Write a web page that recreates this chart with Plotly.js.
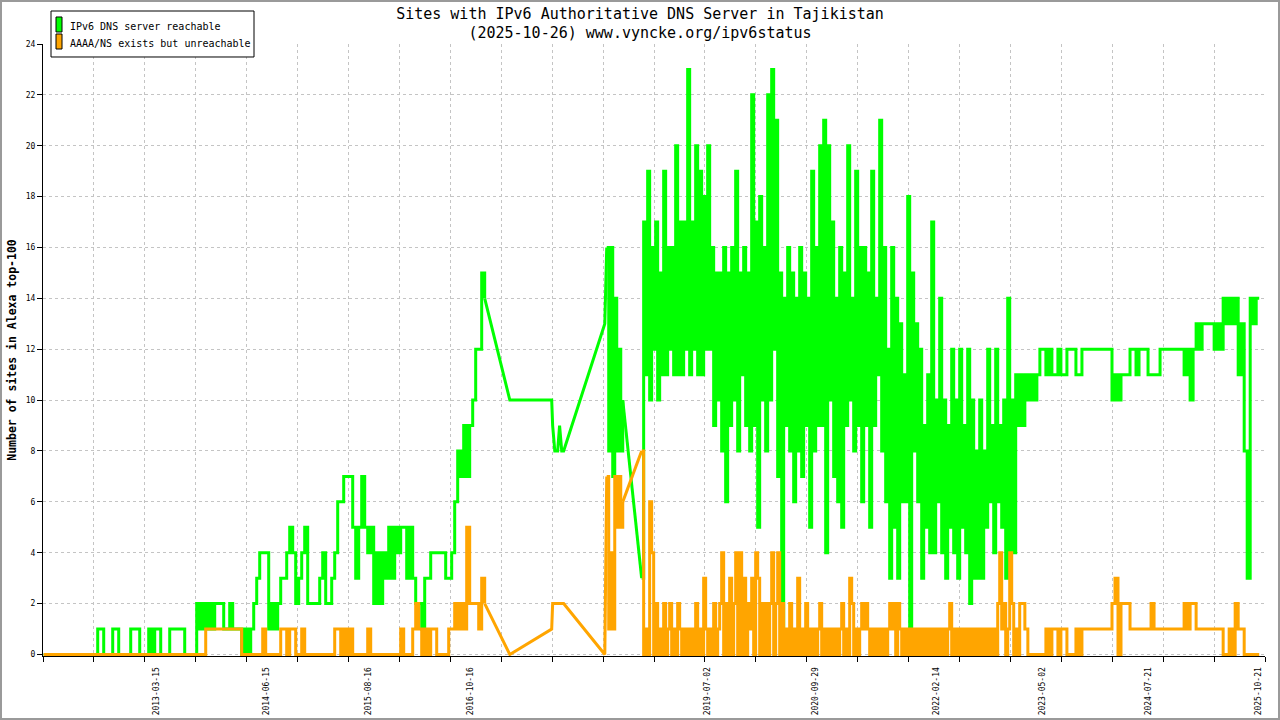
<!DOCTYPE html>
<html>
<head>
<meta charset="utf-8">
<script src="https://cdn.plot.ly/plotly-3.0.1.min.js"></script>
<style>
html,body{margin:0;padding:0;background:#fff;}
#chart{width:1280px;height:720px;}
</style>
</head>
<body>
<div id="chart"></div>
<script>
// ---------------- DATA ----------------
const seriesNames = ['IPv6 DNS server reachable', 'AAAA/NS exists but unreachable'];

// Period 1: regular samples from 2011-11-29 to 2016-12-15
const earlyStart = '2011-11-29', earlyEnd = '2016-12-15';
const earlyReachable = [
 0,0,0,0,0,0,0,0,0,0,
 0,0,0,0,0,0,0,0,1,1,
 0,0,0,1,1,0,0,0,0,1,
 1,1,0,0,0,1,0,1,1,0,
 0,0,1,1,1,1,1,0,0,0,
 0,2,1,2,1,2,1,2,2,2,
 1,1,2,1,1,1,0,1,0,1,
 2,3,4,4,4,1,2,1,2,3,
 3,4,5,4,2,3,4,5,2,2,
 2,2,3,4,2,2,3,4,6,6,
 7,7,7,5,3,5,7,5,4,5,
 2,4,2,4,3,5,3,5,4,5,
 5,3,5,3,2,2,1,3,3,4,
 4,4,4,4,3,3,4,6,8,7,
 9,7,9,10,12,12,15,14
];
const earlyUnreachable = [
 0,0,0,0,0,0,0,0,0,0,
 0,0,0,0,0,0,0,0,0,0,
 0,0,0,0,0,0,0,0,0,0,
 0,0,0,0,0,0,0,0,0,0,
 0,0,0,0,0,0,0,0,0,0,
 0,0,0,0,1,1,1,1,1,1,
 1,1,1,1,1,1,0,0,0,0,
 0,0,0,1,0,0,0,0,0,1,
 1,0,1,1,0,0,1,0,0,0,
 0,0,0,0,0,0,0,1,1,0,
 1,0,1,0,0,0,0,0,1,0,
 0,0,0,0,0,0,0,0,0,1,
 0,0,0,1,2,1,0,1,0,1,
 1,0,0,0,0,1,1,2,1,2,
 1,5,2,2,2,1,3,2
];

// Period 2: sparse measurements (2017 - early 2018)
const gapDates = ['2017-03-30','2017-09-21','2017-09-25','2017-10-04','2017-10-16','2017-10-24','2017-11-02','2017-11-10','2018-05-01'];
const gapReachable   = [10,10,9,8,8,9,8,8,13];
const gapUnreachable = [0,1,2,2,2,2,2,2,0];

// Period 3: short burst 2018-05-09 .. 2018-07-15
const burstStart = '2018-05-09', burstEnd = '2018-07-15';
const burstReachable   = [16,8,16,7,14,8,12,8,10];
const burstUnreachable = [7,1,4,1,7,5,7,5,6];

// Period 4: regular samples 2018-10-02 .. 2023-01-29
const denseStart = '2018-10-02', denseEnd = '2023-01-29';
const denseReachable = [
 3,17,11,19,10,16,12,17,10,15,
 11,19,11,16,12,16,11,20,11,17,
 11,17,12,23,11,17,12,20,11,19,
 11,18,12,20,12,16,9,15,10,15,
 8,16,6,15,9,16,10,19,8,15,
 11,16,9,15,8,22,9,17,5,18,
 10,16,8,22,10,23,12,21,7,15,
 0,14,9,16,8,15,6,14,8,16,
 7,15,9,14,5,19,8,16,9,20,
 9,21,4,20,10,17,7,14,6,16,
 5,15,9,20,10,14,8,19,9,16,
 6,16,9,15,5,19,9,14,11,21,
 8,16,6,12,3,16,5,14,3,13,
 6,11,6,18,0,15,8,13,6,12,
 3,9,5,11,4,17,4,10,6,14,
 4,10,3,9,5,12,4,10,3,12,
 5,9,4,12,2,10,3,8,3,10,
 3,8,5,12,6,9,4,12,6,9,
 5,10,3,14,4,10,4,11,9,11
];
const denseUnreachable = [
 8,0,1,0,6,4,0,2,0,1,
 0,2,0,1,2,0,1,0,2,1,
 0,1,0,1,0,1,0,2,0,1,
 0,3,1,0,1,0,2,0,1,2,
 4,0,2,0,3,0,2,4,0,4,
 0,3,0,2,1,3,0,4,3,0,
 2,0,2,0,2,4,0,2,4,0,
 2,0,1,0,2,0,1,0,3,0,
 1,0,2,0,1,0,1,0,1,2,
 0,1,0,1,0,1,0,1,0,1,
 2,0,1,0,3,2,0,1,0,1,
 2,1,2,1,0,1,0,1,0,1,
 0,1,0,1,2,1,2,0,2,1,
 0,1,0,1,0,1,0,1,0,1,
 0,1,0,1,0,1,0,1,0,1,
 0,1,0,1,2,0,1,0,1,0,
 1,0,1,0,1,0,1,0,1,0,
 1,0,1,0,1,0,1,0,2,4,
 1,2,0,1,4,2,0,1,0,2
];

// Period 5: regular samples 2023-02-07 .. 2025-10-26
const lateStart = '2023-02-07', lateEnd = '2025-10-26';
const lateReachable = [
 9,11,10,11,10,11,12,12,11,12,
 11,11,12,11,11,12,12,12,11,11,
 12,12,12,12,12,12,12,12,12,12,
 10,11,10,11,11,11,12,12,11,12,
 12,12,11,11,11,11,12,12,12,12,
 12,12,12,12,11,12,10,12,13,12,
 13,13,13,13,12,13,12,14,13,14,
 13,14,11,13,8,3,14,13,14,14
];
const lateUnreachable = [
 2,1,0,0,0,0,0,0,1,0,
 1,1,0,1,1,0,0,0,1,0,
 1,1,1,1,1,1,1,1,1,1,
 2,3,0,2,2,2,1,1,1,1,
 1,1,1,2,1,1,1,1,1,1,
 1,1,1,1,2,1,2,2,1,1,
 1,1,1,1,1,1,1,0,0,1,
 0,2,1,1,0,0,0,0,0,0
];

// Axis tick labels
const xTickLabels = ['2013-03-15','2014-06-15','2015-08-16','2016-10-16','2019-07-02','2020-09-29','2022-02-14','2023-05-02','2024-07-21','2025-10-21'];
const yTickStep = 2;
const axisStart = '2011-11-26';
const gridDays = 212.8;   // spacing of the dotted vertical grid
const gridCount = 24;

// ---------------- BUILD ----------------
function evenDates(start, end, n) {
  const a = Date.parse(start + 'T00:00:00Z'), b = Date.parse(end + 'T00:00:00Z');
  const out = [];
  for (let i = 0; i < n; i++) {
    out.push(new Date(a + (b - a) * i / (n - 1)).toISOString().slice(0, 19).replace('T', ' '));
  }
  return out;
}
const last = a => a[a.length - 1];

const earlyDates = evenDates(earlyStart, earlyEnd, earlyReachable.length);
const burstDates = evenDates(burstStart, burstEnd, burstReachable.length);
const denseDates = evenDates(denseStart, denseEnd, denseReachable.length);
const lateDates  = evenDates(lateStart, lateEnd, lateReachable.length);

const green = '#00ff00', orange = '#ffa500';
const mono = 'DejaVu Sans Mono';

function seriesTraces(name, color, early, gap, burst, dense, late) {
  const common = {type: 'scatter', mode: 'lines', name: name, legendgroup: name,
                  showlegend: false, hoverinfo: 'skip'};
  const ln = shape => ({color: color, width: 3, shape: shape, simplify: false});
  return [
    Object.assign({}, common, {x: earlyDates, y: early, line: ln('hv')}),
    Object.assign({}, common, {x: [last(earlyDates)].concat(gapDates, [burstDates[0]]),
                               y: [last(early)].concat(gap, [burst[0]]), line: ln('linear')}),
    Object.assign({}, common, {x: burstDates, y: burst, line: ln('hv')}),
    Object.assign({}, common, {x: [last(burstDates), denseDates[0]], y: [last(burst), dense[0]],
                               line: ln('linear')}),
    Object.assign({}, common, {x: denseDates.concat(lateDates), y: dense.concat(late), line: ln('hv')})
  ];
}

const traces = [].concat(
  seriesTraces(seriesNames[0], green, earlyReachable, gapReachable, burstReachable, denseReachable, lateReachable),
  seriesTraces(seriesNames[1], orange, earlyUnreachable, gapUnreachable, burstUnreachable, denseUnreachable, lateUnreachable)
);

const DAY = 86400000;
const startMs = Date.parse(axisStart + 'T00:00:00Z');
const endMs = startMs + gridCount * gridDays * DAY;
const fmt = ms => new Date(ms).toISOString().slice(0, 19).replace('T', ' ');

const layout = {
  width: 1280, height: 720,
  margin: {l: 43, r: 15, t: 44, b: 64},
  paper_bgcolor: '#ffffff', plot_bgcolor: '#ffffff',
  title: {
    text: 'Sites with IPv6 Authoritative DNS Server in Tajikistan<br>(2025-10-26) www.vyncke.org/ipv6status',
    x: 0.5, xref: 'container', xanchor: 'center',
    y: 0.974, yref: 'container', yanchor: 'top',
    font: {family: mono, size: 15, color: '#000'}
  },
  xaxis: {
    type: 'date', range: [fmt(startMs), fmt(endMs)],
    tickmode: 'array', tickvals: xTickLabels, ticktext: xTickLabels,
    tickangle: -90, ticks: 'outside', ticklen: 7, tickcolor: 'rgba(0,0,0,0)',
    tickfont: {family: mono, size: 8, color: '#000'},
    showgrid: false, zeroline: false,
    showline: true, linecolor: '#000', linewidth: 1,
    minor: {tickmode: 'linear', tick0: fmt(startMs), dtick: gridDays * DAY,
            ticks: 'outside', ticklen: 5, tickcolor: '#000', tickwidth: 1,
            showgrid: true, gridcolor: '#c4c4c4', griddash: 'dot', gridwidth: 1},
    fixedrange: true
  },
  yaxis: {
    range: [-0.06, 24], tickmode: 'linear', tick0: 0, dtick: yTickStep,
    ticks: 'outside', ticklen: 5, tickcolor: '#000',
    tickfont: {family: mono, size: 8, color: '#000'},
    showgrid: true, gridcolor: '#c4c4c4', griddash: 'dot', gridwidth: 1,
    zeroline: false, showline: true, linecolor: '#000', linewidth: 1,
    title: {text: 'Number of sites in Alexa top-100', standoff: 6,
            font: {family: mono, size: 11.5, color: '#000', weight: 'bold'}},
    fixedrange: true
  },
  shapes: [
    {type: 'rect', xref: 'paper', yref: 'paper', x0: -0.03437, x1: 1.01146, y0: -0.10294, y1: 1.07026,
     line: {color: '#9a9a9a', width: 2}, fillcolor: 'rgba(0,0,0,0)', layer: 'above'},
    {type: 'rect', xref: 'paper', yref: 'paper', x0: 0.00655, x1: 0.17267, y0: 0.97876, y1: 1.05392,
     line: {color: '#000', width: 1}, fillcolor: '#ffffff', layer: 'above'},
    {type: 'rect', xref: 'paper', yref: 'paper', x0: 0.01064, x1: 0.01555, y0: 1.01961, y1: 1.04412,
     line: {color: '#000', width: 1}, fillcolor: green, layer: 'above'},
    {type: 'rect', xref: 'paper', yref: 'paper', x0: 0.01064, x1: 0.01555, y0: 0.99183, y1: 1.01634,
     line: {color: '#000', width: 1}, fillcolor: orange, layer: 'above'}
  ],
  annotations: [
    {xref: 'paper', yref: 'paper', x: 0.02046, y: 1.02941, xanchor: 'left', yanchor: 'middle',
     text: seriesNames[0], showarrow: false, font: {family: mono, size: 10, color: '#000'}},
    {xref: 'paper', yref: 'paper', x: 0.02046, y: 1.00163, xanchor: 'left', yanchor: 'middle',
     text: seriesNames[1], showarrow: false, font: {family: mono, size: 10, color: '#000'}}
  ]
};

Plotly.newPlot('chart', traces, layout, {displayModeBar: false, staticPlot: true});
</script>
</body>
</html>
